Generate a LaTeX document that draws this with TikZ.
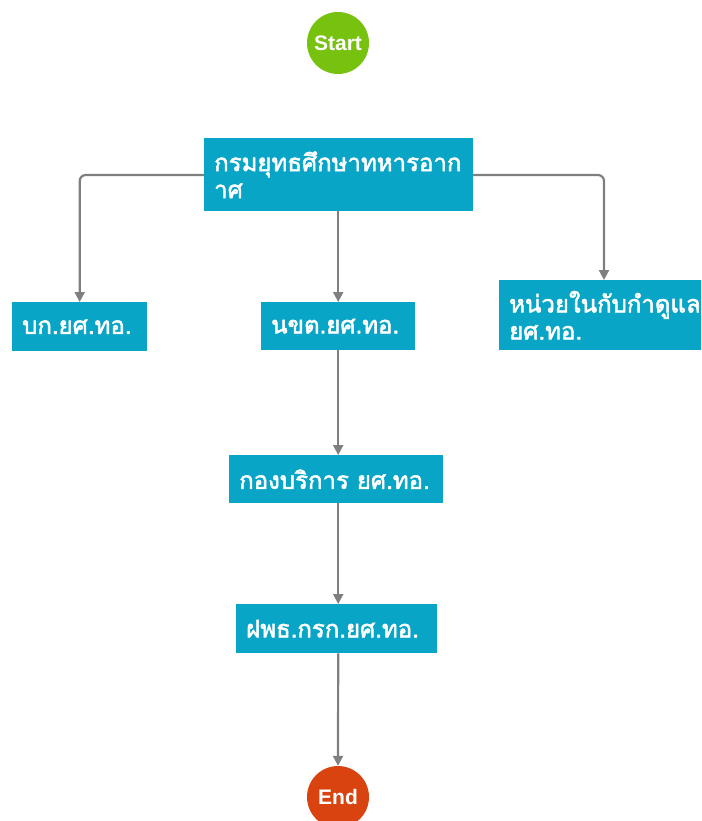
\documentclass[tikz,border=0pt]{standalone}
\usepackage{fontspec}
\setmainfont{Liberation Sans}
\newfontfamily\thaifont[Script=Thai, FakeBold=2.2]{Loma}
\usetikzlibrary{arrows.meta}
\definecolor{boxc}{HTML}{08A5C6}
\definecolor{startc}{HTML}{77C20F}
\definecolor{endc}{HTML}{D9430F}
\definecolor{linec}{HTML}{7F7F7F}
\tikzset{
  box/.style={fill=boxc, text=white, font=\thaifont\fontsize{24}{27}\selectfont,
    inner xsep=10pt, inner ysep=0pt, align=left, anchor=north west},
  term/.style={circle, minimum size=62pt, inner sep=0pt, text=white,
    font=\bfseries\fontsize{21}{24}\selectfont},
  conn/.style={draw=linec, line width=2.2pt, rounded corners=6pt,
    -{Triangle[length=10pt,width=10pt]}},
}
\begin{document}
\begin{tikzpicture}[x=1pt,y=-1pt]
\useasboundingbox (0,0) rectangle (701,821);
\node[term, fill=startc] (start) at (338,43) {Start};
\node[box, text width=249pt, minimum height=73pt] (top) at (204,138) {กรมยุทธศึกษาทหารอาก\\าศ};
\node[box, text width=115pt, minimum height=49pt] (bk) at (12,302) {บก.ยศ.ทอ.};
\node[box, text width=134pt, minimum height=48pt] (nkd) at (261,302) {นขต.ยศ.ทอ.};
\node[box, text width=182pt, minimum height=70pt] (unit) at (499,280) {หน่วยในกับกำดูแล\\ยศ.ทอ.};
\node[box, text width=194pt, minimum height=48pt] (kong) at (229,455) {กองบริการ ยศ.ทอ.};
\node[box, text width=181pt, minimum height=49pt] (fp) at (236,604) {ฝพธ.กรก.ยศ.ทอ.};
\node[term, fill=endc] (end) at (338,797) {End};
\coordinate (ltop) at (204,175);
\coordinate (rtop) at (473,175);
\coordinate (uarr) at (604,280);
\draw[conn] (ltop) -| (bk.north);
\draw[conn] (nkd.north |- top.south) -- (nkd.north);
\draw[conn] (rtop) -| (uarr);
\draw[conn] (nkd.south) -- (nkd.south |- kong.north);
\draw[conn] (nkd.south |- kong.south) -- (nkd.south |- fp.north);
\draw[conn] (nkd.south |- fp.south) -- (end.north);
\end{tikzpicture}
\end{document}
